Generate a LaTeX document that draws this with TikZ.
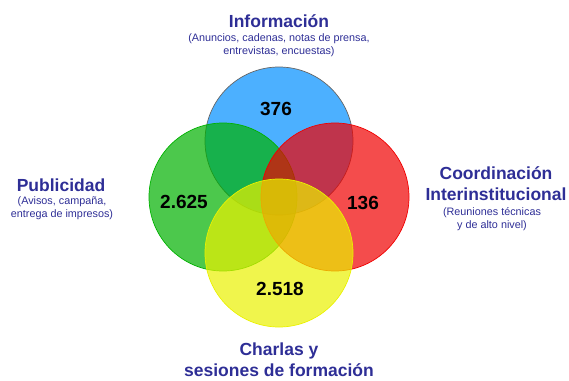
\documentclass[tikz,border=0pt]{standalone}
\usepackage{fontspec}
\setmainfont{Liberation Sans}
\definecolor{tinta}{RGB}{46,46,150}
\definecolor{azul}{RGB}{0,142,255}
\definecolor{verde}{RGB}{0,177,0}
\definecolor{rojo}{RGB}{240,0,0}
\definecolor{amarillo}{RGB}{234,241,0}
\begin{document}
\begin{tikzpicture}[x=1pt, y=-1pt, line join=round,
	titulo/.style={text=tinta, font=\fontsize{17.5}{21}\selectfont\bfseries, align=center},
	subtitulo/.style={text=tinta, font=\fontsize{10.8}{13}\selectfont, align=center},
	cifra/.style={font=\fontsize{19}{22}\selectfont\bfseries}]
			\useasboundingbox (0,0) rectangle (569,380);
			\def\r{74}
			\foreach \cx/\cy/\c/\b in {279/141/azul/black!60, 223/197/verde/verde, 335/197/rojo/rojo, 279/253/amarillo/amarillo}
				\draw[\b, fill=\c, fill opacity=.7, line width=.7pt] (\cx,\cy) circle (\r);
			\node[cifra] (n376) at (276,109) {376};
			\node[cifra] (n2625) at (184,202) {2.625};
			\node[cifra] (n136) at (363,203) {136};
			\node[cifra] (n2518) at (280,289) {2.518};
			\node[titulo] (info) at (279,21) {Información};
			\node[subtitulo] (infosub) at (279,45) {(Anuncios, cadenas, notas de prensa,\\entrevistas, encuestas)};
			\node[titulo] (publi) at (61,185) {Publicidad};
			\node[subtitulo] (publisub) at (62,208) {(Avisos, campaña,\\entrega de impresos)};
			\node[titulo] (coord) at (496,184) {Coordinación\\Interinstitucional};
			\node[subtitulo] (coordsub) at (492,219) {(Reuniones técnicas\\y de alto nivel)};
			\node[titulo] (charlas) at (279,360) {Charlas y\\sesiones de formación};
		\end{tikzpicture}
\end{document}
